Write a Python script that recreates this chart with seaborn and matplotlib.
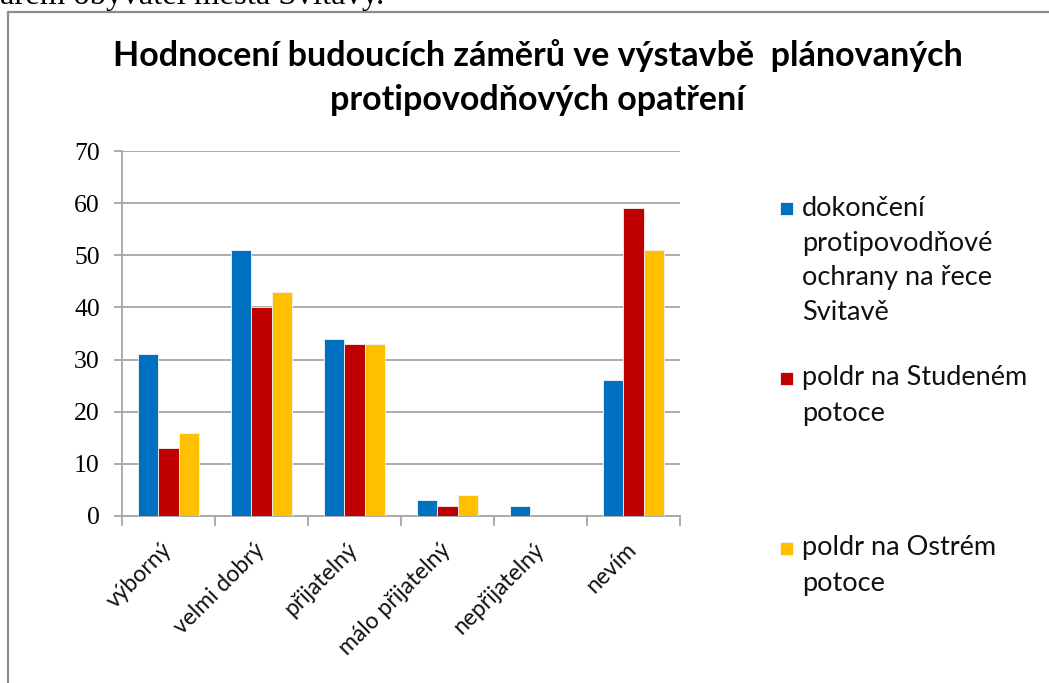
"""Hodnocení budoucích záměrů - grouped bar chart."""
import matplotlib
matplotlib.use("Agg")
import matplotlib.pyplot as plt
import pandas as pd
import seaborn as sns
from matplotlib.lines import Line2D
from matplotlib.patches import Rectangle

categories = ["výborný", "velmi dobrý", "přijatelný", "málo přijatelný", "nepřijatelný", "nevím"]
series_names = [
    "dokončení\nprotipovodňové\nochrany na řece\nSvitavě",
    "poldr na Studeném\npotoce",
    "poldr na Ostrém\npotoce",
]
dokonceni = [31, 51, 34, 3, 2, 26]
studeny = [13, 40, 33, 2, 0, 59]
ostry = [16, 43, 33, 4, 0, 51]
colors = ["#0070C0", "#C00000", "#FFC000"]
yticks = [0, 10, 20, 30, 40, 50, 60, 70]

df = pd.DataFrame({
    "kategorie": categories * 3,
    "serie": [series_names[0]] * 6 + [series_names[1]] * 6 + [series_names[2]] * 6,
    "hodnota": dokonceni + studeny + ostry,
})

sns.set_style("white")
sans = ["Lato", "DejaVu Sans"]
serif = ["Liberation Serif", "DejaVu Serif"]
grid_c = "#A6A6A6"
txt_c = "#000000"

fig = plt.figure(figsize=(10.49, 6.83), dpi=100)
W, H = 1049, 683
ax = fig.add_axes([122 / W, 1 - 516 / H, 558 / W, 365 / H])

sns.barplot(data=df, x="kategorie", y="hodnota", hue="serie", order=categories,
            hue_order=series_names, palette=colors, saturation=1, width=0.66, gap=0,
            edgecolor="#f4f4f4", linewidth=0.6, ax=ax, legend=False, zorder=3)

ax.set_ylim(0, 70)
ax.set_xlim(-0.5, 5.5)
ax.set_yticks(yticks)
ax.set_yticklabels([str(v) for v in yticks], fontfamily=serif, fontsize=18.5, color=txt_c)
ax.yaxis.grid(True, color=grid_c, linewidth=1.3, zorder=0)
ax.set_axisbelow(True)
ax.tick_params(axis="y", length=6, width=1.3, color=grid_c, pad=10, left=True)
ax.set_xticks(range(len(categories)))
ax.set_xticklabels(categories, rotation=45, ha="right", va="center", rotation_mode="anchor",
                   fontfamily=sans, fontsize=16.5, color="#111111")
ax.tick_params(axis="x", length=0, pad=22)
ax.set_xticks([i - 0.5 for i in range(len(categories) + 1)], minor=True)
ax.tick_params(axis="x", which="minor", length=7, width=1.3, color=grid_c, bottom=True)
ax.set_xlabel("")
ax.set_ylabel("")
for side in ["top", "right"]:
    ax.spines[side].set_visible(False)
for side in ["left", "bottom"]:
    ax.spines[side].set_color(grid_c)
    ax.spines[side].set_linewidth(1.3)

# title
fig.text(538 / W, 1 - 66 / H, "Hodnocení budoucích záměrů ve výstavbě  plánovaných",
         ha="center", va="baseline", fontsize=24.5, fontweight="bold", fontfamily=sans, color=txt_c)
fig.text(538 / W, 1 - 110 / H, "protipovodňových opatření",
         ha="center", va="baseline", fontsize=24.5, fontweight="bold", fontfamily=sans, color=txt_c)

# legend: square aligned with the first line of each entry, as in the original
legend_y = [208, 378, 548]
line_step = 35
for name, col, y in zip(series_names, colors, legend_y):
    fig.add_artist(Rectangle((780 / W, 1 - (y + 7) / H), 13 / W, 13 / H,
                             facecolor=col, edgecolor="#f4f4f4", linewidth=0.6))
    for i, line in enumerate(name.split("\n")):
        fig.text(802 / W, 1 - (y + i * line_step) / H, line, ha="left", va="center",
                 fontsize=19.5, fontfamily=sans, color="#111111")

# chart border (left and top edges) and the cut-off text line above the chart
fig.add_artist(Line2D([8 / W, 8 / W], [0, 1 - 12 / H], color="#8C8C8C", linewidth=1.6))
fig.add_artist(Line2D([8 / W, 1], [1 - 12 / H, 1 - 12 / H], color="#8C8C8C", linewidth=1.6))
fig.text(0, 1 - 4 / H, "ařem obyvatel města Svitavy.", ha="left", va="baseline",
         fontsize=23.5, fontfamily=serif, color=txt_c)

fig.savefig("out.png", dpi=100)
